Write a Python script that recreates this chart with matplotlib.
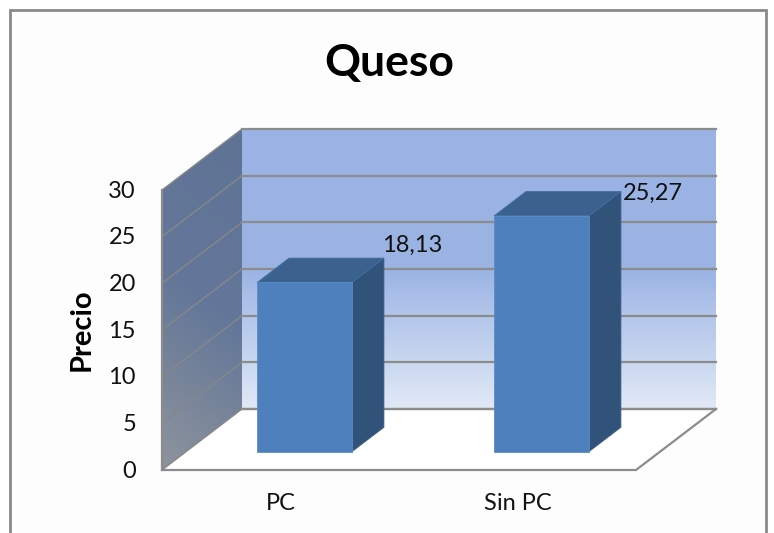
import numpy as np
import matplotlib
matplotlib.use('Agg')
import matplotlib.pyplot as plt
from matplotlib.patches import Polygon
from matplotlib.colors import LinearSegmentedColormap

categories = ['PC', 'Sin PC']
values = [18.13, 25.27]
value_labels = ['18,13', '25,27']
y_ticks = [0, 5, 10, 15, 20, 25, 30]
title = 'Queso'
y_title = 'Precio'

# front plane of the 3d box in pixels
X0, Y0 = 162, 470
CAT_W = 237.0
UNIT_H = 280 / 30.0
DX, DY = 80, 61
BAR_W = 0.4
D1, D2 = 0.3, 0.7

GRID = '#8c8c8c'
TXT = '#111111'
FS = 17


def proj(cat, val, depth=0.0):
    return (X0 + cat * CAT_W + depth * DX, Y0 - val * UNIT_H - depth * DY)


plt.rcParams['font.family'] = ['Lato', 'DejaVu Sans']
fig = plt.figure(figsize=(7.74, 5.33), dpi=100)
ax = fig.add_axes([0, 0, 1, 1])
ax.set_xlim(0, 774)
ax.set_ylim(533, 0)
ax.axis('off')

# chart frame, runs off the bottom of the picture
ax.add_patch(Polygon([(10, 10), (766, 10), (766, 540), (10, 540)], closed=True,
                     fc='#fdfdfd', ec='#8a8a8a', lw=2, zorder=0))

n_cat = len(categories)
top = y_ticks[-1]

# back wall gradient
wall_cmap = LinearSegmentedColormap.from_list(
    'wall', [(0, '#9ab4e5'), (0.5, '#9ab3e3'), (0.62, '#adc1e9'), (0.85, '#cbd9f0'), (1, '#e2e9f6')])
xa, ya = proj(0, 0, 1)
xb, yb = proj(n_cat, top, 1)
ax.imshow(np.linspace(0, 1, 256).reshape(-1, 1), cmap=wall_cmap, aspect='auto',
          extent=[xa, xb, ya, yb], zorder=1)

# side wall gradient, darker to the top
side_cmap = LinearSegmentedColormap.from_list(
    'side', [(0, '#5f7395'), (0.5, '#64779a'), (0.75, '#788599'), (1, '#8e949e')])
xs0, ys0 = proj(0, 0, 0)
xs1, ys1 = proj(0, top, 1)
xx, yy = np.meshgrid(np.linspace(0, 1, 80), np.linspace(0, 1, 256))
side_im = ax.imshow(np.clip(yy * 0.85 + (1 - xx) * 0.15, 0, 1), cmap=side_cmap, aspect='auto',
                    extent=[xs0, xs1, ys0, ys1], zorder=1, origin='upper')
side_poly = Polygon([proj(0, 0, 0), proj(0, top, 0), proj(0, top, 1), proj(0, 0, 1)], closed=True,
                    fc='none', ec='none', transform=ax.transData)
ax.add_patch(side_poly)
side_im.set_clip_path(side_poly)
ax.set_xlim(0, 774)
ax.set_ylim(533, 0)

# gridlines on both walls
for t in y_ticks:
    a, b, c = proj(0, t, 0), proj(0, t, 1), proj(n_cat, t, 1)
    ax.plot([a[0], b[0]], [a[1], b[1]], color='#85878a', lw=1.0, zorder=2)
    ax.plot([b[0], c[0]], [b[1], c[1]], color=GRID, lw=1.6, zorder=2)
    ax.text(a[0] - 26, a[1] + 1, str(t), ha='right', va='center', fontsize=FS, color=TXT, zorder=5)

# floor outline and left edge
floor = [proj(0, 0, 0), proj(n_cat, 0, 0), proj(n_cat, 0, 1), proj(0, 0, 1)]
ax.add_patch(Polygon(floor, closed=True, fc='#ffffff', ec='none', zorder=1.5))
ax.plot(*zip(proj(0, 0, 0), proj(n_cat, 0, 0), proj(n_cat, 0, 1)), color=GRID, lw=1.6, zorder=2)
ax.plot(*zip(proj(0, 0, 1), proj(n_cat, 0, 1)), color=GRID, lw=1.6, zorder=2)
ax.plot(*zip(proj(0, 0, 0), proj(0, top, 0)), color=GRID, lw=1.6, zorder=2)

# bars
for i, (cat, v, lab) in enumerate(zip(categories, values, value_labels)):
    l = i + 0.5 - BAR_W / 2
    r = i + 0.5 + BAR_W / 2
    front = [proj(l, 0, D1), proj(r, 0, D1), proj(r, v, D1), proj(l, v, D1)]
    cap = [proj(l, v, D1), proj(r, v, D1), proj(r, v, D2), proj(l, v, D2)]
    side = [proj(r, 0, D1), proj(r, 0, D2), proj(r, v, D2), proj(r, v, D1)]
    ax.add_patch(Polygon(side, closed=True, fc='#325379', ec='#3a5c85', lw=0.6, zorder=3))
    ax.add_patch(Polygon(cap, closed=True, fc='#3b618f', ec='#4670a3', lw=0.6, zorder=3))
    ax.add_patch(Polygon(front, closed=True, fc='#4d80bd', ec='#5b8bc4', lw=0.6, zorder=4))
    tx, ty = proj(r, v, D2)
    # first label sits above the bar, second one beside it
    ax.text(tx + (-2 if i == 0 else 2), ty + (-13 if i == 0 else 2), lab, ha='left', va='center',
            fontsize=FS, color=TXT, zorder=5)
    cx, _ = proj(i + 0.5, 0, 0)
    ax.text(cx, 504, cat, ha='center', va='center', fontsize=FS, color=TXT, zorder=5)

ax.text(389, 63, title, ha='center', va='center', fontsize=32, fontweight='bold', color='black', zorder=5)
ax.text(82, 330, y_title, ha='center', va='center', rotation=90, fontsize=21, fontweight='bold',
        color='black', zorder=5)

fig.savefig('out.png', dpi=100)
